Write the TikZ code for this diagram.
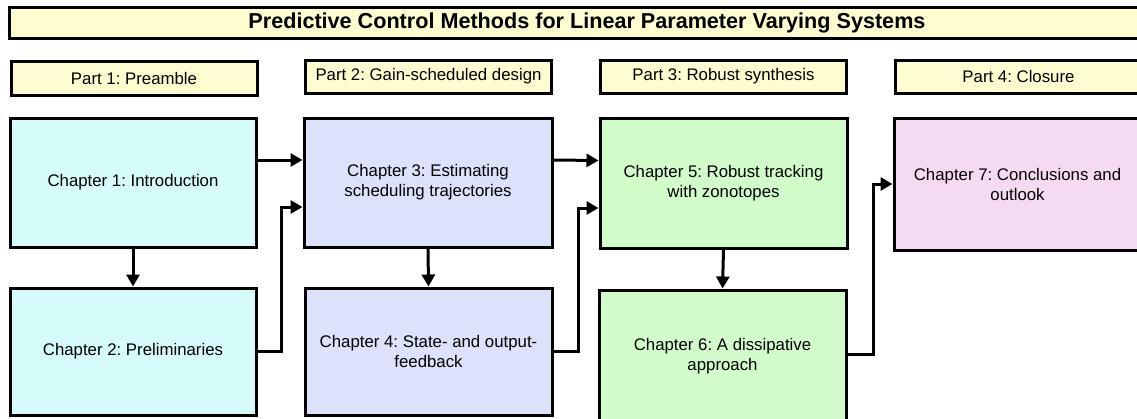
\documentclass[tikz,border=0pt]{standalone}
\usepackage{fontspec}
\setmainfont{Liberation Sans}
\frenchspacing
\usetikzlibrary{arrows.meta}
\definecolor{partyellow}{HTML}{FDFDCF}
\definecolor{chcyan}{HTML}{D6FBFB}
\definecolor{chlav}{HTML}{DCE2FA}
\definecolor{chgreen}{HTML}{D1FBC9}
\definecolor{chpink}{HTML}{F5DBF1}
\tikzset{
  box/.style={draw=black, line width=3pt, rectangle, inner sep=0pt, align=center,
    font=\fontsize{16.8}{20}\selectfont\frenchspacing},
  titlebox/.style={box, fill=partyellow, minimum width=1156pt, minimum height=31pt,
    font=\fontsize{21.6}{24}\selectfont\bfseries\frenchspacing},
  partbox/.style={box, fill=partyellow, minimum width=246pt, minimum height=33pt},
  chapbox/.style={box, minimum width=246pt, minimum height=129pt},
  arr/.style={draw=black, line width=3pt, -{Triangle[length=12pt,width=13pt]}},
}
\begin{document}
\begin{tikzpicture}[x=1pt,y=-1pt]
\useasboundingbox (0,0) rectangle (1137,418);
\clip (0,0) rectangle (1137,418);
\node[titlebox] (title) at (587,22.5) {Predictive Control Methods for Linear Parameter Varying Systems};
\node[partbox, minimum height=34pt] (p1) at (134,78) {Part 1: Preamble};
\node[partbox] (p2) at (428.5,76.5) {Part 2: Gain-scheduled design};
\node[partbox] (p3) at (723.5,76.5) {Part 3: Robust synthesis};
\node[partbox] (p4) at (1018.5,76.5) {Part 4: Closure};
\node[chapbox, fill=chcyan] (c1) at (133,182.5) {Chapter 1: Introduction};
\node[chapbox, fill=chcyan, minimum height=127pt] (c2) at (133,351.5) {Chapter 2: Preliminaries};
\node[chapbox, fill=chlav, minimum width=248pt] (c3) at (428,182.5) {Chapter 3: Estimating\\scheduling trajectories};
\node[chapbox, fill=chlav, minimum height=127pt, minimum width=247pt] (c4) at (428.5,351.5) {Chapter 4: State- and output-\\feedback};
\node[chapbox, fill=chgreen, minimum height=130pt, minimum width=247pt] (c5) at (723.5,183) {Chapter 5: Robust tracking\\with zonotopes};
\node[chapbox, fill=chgreen, minimum height=132pt, minimum width=247pt] (c6) at (722.5,356) {Chapter 6: A dissipative\\approach};
\node[chapbox, fill=chpink, minimum height=132pt, minimum width=247pt] (c7) at (1017.5,184) {Chapter 7: Conclusions and\\outlook};
\draw[arr] (c1.south) -- (c2.north);
\draw[arr] (c3.south) -- (c4.north);
\draw[arr] (c5.south) -- (c6.north);
\draw[arr] ([yshift=22.5pt]c1.east) -- ([yshift=22.5pt]c3.west);
\draw[arr] (c2.east) -- ++(24,0) |- ([yshift=-24.5pt]c3.west);
\draw[arr] ([yshift=22.5pt]c3.east) -- ([yshift=22.5pt]c5.west);
\draw[arr] (c4.east) -- ++(25,0) |- ([yshift=-25pt]c5.west);
\draw[arr] ([yshift=2pt]c6.east) -- ++(26,0) |- (c7.west);
\end{tikzpicture}
\end{document}
